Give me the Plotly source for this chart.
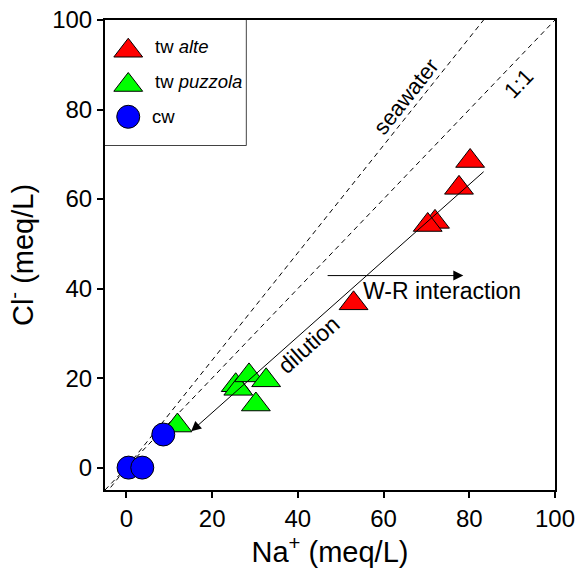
import plotly.graph_objects as go

# ---- data ----
alte_na = [80.2, 77.6, 72.0, 70.3, 53.0]
alte_cl = [68.5, 62.5, 54.9, 54.2, 36.7]
puzz_na = [25.5, 26.1, 28.6, 32.6, 30.2, 11.9]
puzz_cl = [18.4, 17.6, 20.6, 19.5, 14.1, 9.4]
cw_na = [0.5, 3.7, 8.6]
cw_cl = [0.0, 0.0, 7.4]

seawater_ratio = 1.2
one_ratio = 1.0
axis_range = [-5, 100]
tick_vals = [0, 20, 40, 60, 80, 100]

dilution_tail = [83.7, 66.4]
dilution_tip = [15.1, 8.1]
wr_tail = [46.6, 42.9]
wr_tip = [78.6, 42.9]

FONT = "Liberation Sans, Arial, sans-serif"

fig = go.Figure()

# reference lines
line_x = [axis_range[0], axis_range[1]]
for ratio in (seawater_ratio, one_ratio):
    fig.add_trace(go.Scatter(
        x=line_x, y=[v * ratio for v in line_x], mode="lines",
        line=dict(color="black", width=1, dash="5px,4px"),
        hoverinfo="skip", showlegend=False))

fig.add_trace(go.Scatter(
    x=alte_na, y=alte_cl, mode="markers", name="tw alte",
    marker=dict(symbol="triangle-up", size=25, color="#FF0000",
                line=dict(color="black", width=1))))
fig.add_trace(go.Scatter(
    x=puzz_na, y=puzz_cl, mode="markers", name="tw puzzola",
    marker=dict(symbol="triangle-up", size=25, color="#00FF00",
                line=dict(color="black", width=1))))
fig.add_trace(go.Scatter(
    x=cw_na, y=cw_cl, mode="markers", name="cw",
    marker=dict(symbol="circle", size=23, color="#0000FF",
                line=dict(color="black", width=1))))

# custom legend (drawn on an overlay axis)
leg_x = [0.165, 0.165, 0.165]
leg_y = [0.754, 0.48, 0.226]
leg_sym = ["triangle-up", "triangle-up", "circle"]
leg_col = ["#FF0000", "#00FF00", "#0000FF"]
leg_size = [25, 25, 23]
for lx, ly, s, c, sz in zip(leg_x, leg_y, leg_sym, leg_col, leg_size):
    fig.add_trace(go.Scatter(
        x=[lx], y=[ly], xaxis="x2", yaxis="y2", mode="markers",
        marker=dict(symbol=s, size=sz, color=c, line=dict(color="black", width=1)),
        showlegend=False, hoverinfo="skip"))

leg_text = ["tw <i>alte</i>", "tw <i>puzzola</i>", "cw"]
leg_tx = [0.34, 0.34, 0.318]
leg_ty = [0.786, 0.506, 0.226]

annotations = []
for t, tx, ty in zip(leg_text, leg_tx, leg_ty):
    annotations.append(dict(text=t, x=tx, y=ty, xref="x2", yref="y2",
                            xanchor="left", yanchor="middle", showarrow=False,
                            font=dict(size=18.5, family=FONT, color="black")))

annotations += [
    dict(x=dilution_tip[0], y=dilution_tip[1], ax=dilution_tail[0], ay=dilution_tail[1],
         xref="x", yref="y", axref="x", ayref="y", text="", showarrow=True,
         arrowhead=2, arrowsize=2, arrowwidth=1, arrowcolor="black"),
    dict(x=wr_tip[0], y=wr_tip[1], ax=wr_tail[0], ay=wr_tail[1],
         xref="x", yref="y", axref="x", ayref="y", text="", showarrow=True,
         arrowhead=2, arrowsize=2, arrowwidth=1, arrowcolor="black"),
    dict(x=54.8, y=39.4, xref="x", yref="y", text="W-R interaction", showarrow=False,
         xanchor="left", yanchor="middle", font=dict(size=23, family=FONT, color="black")),
    dict(x=42.4, y=27.5, xref="x", yref="y", text="dilution", showarrow=False,
         textangle=-41.7, font=dict(size=23, family=FONT, color="black")),
    dict(x=65.2, y=83.0, xref="x", yref="y", text="seawater", showarrow=False,
         textangle=-51.5, font=dict(size=22, family=FONT, color="black")),
    dict(x=91.5, y=85.9, xref="x", yref="y", text="1:1", showarrow=False,
         textangle=-46.4, font=dict(size=22, family=FONT, color="black")),
]

axis_common = dict(
    range=axis_range, tickvals=tick_vals, ticks="outside", ticklen=6, tickwidth=1.5,
    tickcolor="black", showline=True, linecolor="black", linewidth=2, mirror=True,
    showgrid=False, zeroline=False, automargin=False, ticklabeloverflow="allow",
    tickfont=dict(size=24, family=FONT, color="black"),
)

fig.update_layout(
    width=577, height=577,
    margin=dict(l=105, r=22, t=20, b=87, autoexpand=False),
    plot_bgcolor="white", paper_bgcolor="white",
    showlegend=False,
    font=dict(family=FONT, color="black"),
    xaxis=dict(**axis_common, title=dict(text="Na<sup>+</sup> (meq/L)", standoff=10,
                                         font=dict(size=29, family=FONT))),
    yaxis=dict(**axis_common, title=dict(text="Cl<sup>-</sup> (meq/L)", standoff=10,
                                         font=dict(size=29, family=FONT))),
    xaxis2=dict(domain=[0, 0.313], range=[0, 1], visible=False, anchor="y2", fixedrange=True),
    yaxis2=dict(domain=[0.734, 1], range=[0, 1], visible=False, anchor="x2", fixedrange=True),
    shapes=[dict(type="rect", xref="paper", yref="paper", x0=0, x1=0.313, y0=0.734, y1=1,
                 line=dict(color="black", width=1.5), fillcolor="white", layer="below")],
    annotations=annotations,
)

fig.write_html("out.html", config={"displayModeBar": False},
               post_script="document.body.style.margin='0';document.body.style.overflow='hidden';")
